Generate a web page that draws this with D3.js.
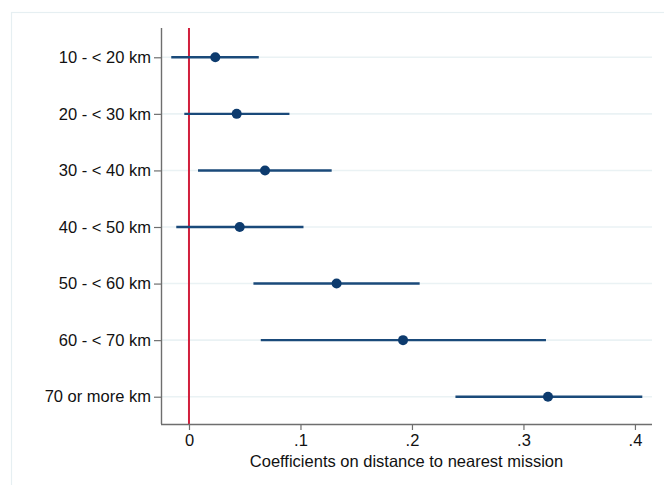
<!DOCTYPE html>
<html>
<head>
<meta charset="utf-8">
<script src="https://cdn.jsdelivr.net/npm/d3@7"></script>
<style>
  body { margin: 0; background: #fff; }
  svg text { font-family: "Liberation Sans", Arial, sans-serif; fill: #111; }
</style>
</head>
<body>
<svg id="chart" width="664" height="485"></svg>
<script>
// distance bands and estimated coefficients with 95% CI
var bands = ["10 - < 20 km", "20 - < 30 km", "30 - < 40 km", "40 - < 50 km",
             "50 - < 60 km", "60 - < 70 km", "70 or more km"];
var coef  = [0.0236, 0.0428, 0.0682, 0.0455, 0.1324, 0.1920, 0.3220];
var lower = [-0.0159, -0.0042, 0.0081, -0.0114, 0.0578, 0.0644, 0.2390];
var upper = [0.0626, 0.0901, 0.1280, 0.1027, 0.2069, 0.3202, 0.4066];
var xTicks = [0, 0.1, 0.2, 0.3, 0.4];
var xTitle = "Coefficients on distance to nearest mission";

var svg = d3.select("#chart");
var plotL = 161, plotR = 652, plotT = 28, plotB = 424;
var fontPx = "16.5px";

var x = d3.scaleLinear().domain([-0.0251, 0.4153]).range([plotL, plotR]);
var y = d3.scalePoint().domain(bands).range([plotT + 1, plotB + 1]).padding(0.5);

// outer frame
svg.append("rect")
  .attr("x", 11.5).attr("y", 12.5)
  .attr("width", 700).attr("height", 500)
  .attr("fill", "none")
  .attr("stroke", "#e6eff2")
  .attr("stroke-width", 1.2);

// gridlines
svg.append("g").selectAll("line")
  .data(bands)
  .enter().append("line")
  .attr("x1", plotL).attr("x2", plotR)
  .attr("y1", function(d){ return y(d); })
  .attr("y2", function(d){ return y(d); })
  .attr("stroke", "#eaf2f4")
  .attr("stroke-width", 1.6);

// zero reference line
svg.append("line")
  .attr("x1", x(0)).attr("x2", x(0))
  .attr("y1", plotT).attr("y2", plotB)
  .attr("stroke", "#d21f3c")
  .attr("stroke-width", 2);

// axes
var yAxis = svg.append("g")
  .attr("transform", "translate(" + plotL + ",0)")
  .call(d3.axisLeft(y).tickSize(7).tickPadding(3));
var xAxis = svg.append("g")
  .attr("transform", "translate(0," + plotB + ")")
  .call(d3.axisBottom(x).tickValues(xTicks).tickSize(6).tickPadding(4)
        .tickFormat(function(d){ return d === 0 ? "0" : d3.format(".1f")(d).replace(/^0/, ""); }));

[yAxis, xAxis].forEach(function(a){
  a.select(".domain").attr("stroke", "#6e6e6e").attr("stroke-width", 1.4);
  a.selectAll(".tick line").attr("stroke", "#6e6e6e").attr("stroke-width", 1.2);
  a.selectAll("text").style("font-size", fontPx).attr("fill", "#111");
});
yAxis.select(".domain").attr("d", "M0.5," + plotT + "V" + plotB);
xAxis.select(".domain").attr("d", "M" + plotL + ",0.5H" + plotR);

svg.append("text")
  .attr("x", (plotL + plotR) / 2)
  .attr("y", 467)
  .attr("text-anchor", "middle")
  .style("font-size", fontPx)
  .text(xTitle);

// confidence intervals
svg.append("g").selectAll("line")
  .data(bands)
  .enter().append("line")
  .attr("x1", function(d, i){ return x(lower[i]); })
  .attr("x2", function(d, i){ return x(upper[i]); })
  .attr("y1", function(d){ return y(d); })
  .attr("y2", function(d){ return y(d); })
  .attr("stroke", "#1a4a7a")
  .attr("stroke-width", 2.4);

// point estimates
svg.append("g").selectAll("circle")
  .data(bands)
  .enter().append("circle")
  .attr("cx", function(d, i){ return x(coef[i]); })
  .attr("cy", function(d){ return y(d); })
  .attr("r", 5)
  .attr("fill", "#0d3b6e");
</script>
</body>
</html>
